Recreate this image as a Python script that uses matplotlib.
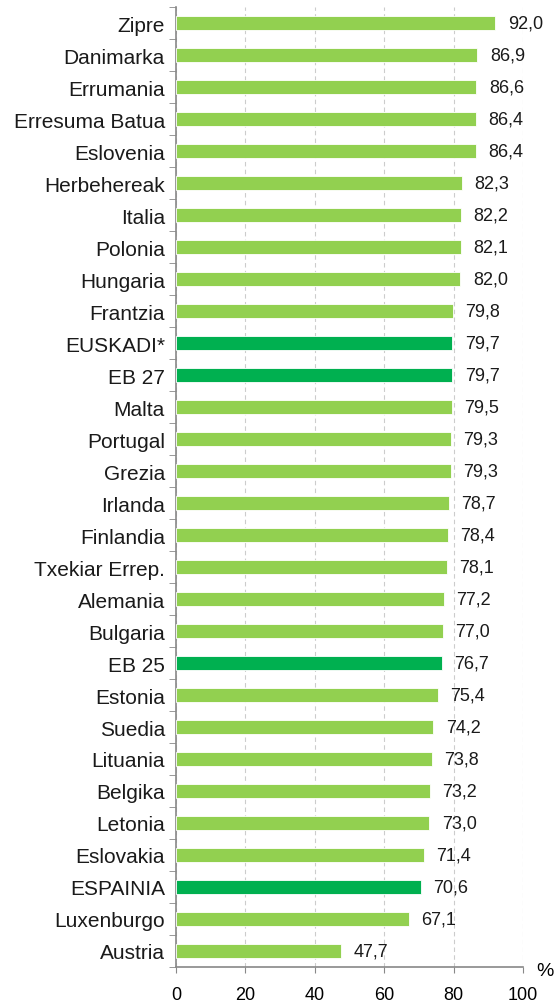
import matplotlib.pyplot as plt
from matplotlib.ticker import MultipleLocator

plt.rcParams['font.family'] = ['Liberation Sans', 'DejaVu Sans']

# data (top to bottom)
countries = ['Zipre', 'Danimarka', 'Errumania', 'Erresuma Batua', 'Eslovenia',
             'Herbehereak', 'Italia', 'Polonia', 'Hungaria', 'Frantzia',
             'EUSKADI*', 'EB 27', 'Malta', 'Portugal', 'Grezia', 'Irlanda',
             'Finlandia', 'Txekiar Errep.', 'Alemania', 'Bulgaria', 'EB 25',
             'Estonia', 'Suedia', 'Lituania', 'Belgika', 'Letonia',
             'Eslovakia', 'ESPAINIA', 'Luxenburgo', 'Austria']
values = [92.0, 86.9, 86.6, 86.4, 86.4, 82.3, 82.2, 82.1, 82.0, 79.8,
          79.7, 79.7, 79.5, 79.3, 79.3, 78.7, 78.4, 78.1, 77.2, 77.0,
          76.7, 75.4, 74.2, 73.8, 73.2, 73.0, 71.4, 70.6, 67.1, 47.7]
highlight = ['EUSKADI*', 'EB 27', 'EB 25', 'ESPAINIA']

light = '#92D050'
dark = '#00B050'
colors = [dark if c in highlight else light for c in countries]

fig = plt.figure(figsize=(5.56, 10.04), dpi=100)
ax = fig.add_axes([0.3165, 0.0359, 0.624, 0.956])

ypos = list(range(len(countries)))
ax.barh(ypos, values, height=0.45, color=colors, edgecolor='white', linewidth=0.6, zorder=3)

for y, v in zip(ypos, values):
    ax.annotate(f'{v:.1f}'.replace('.', ','), (v, y), xytext=(9, 0),
                textcoords='offset points', va='center', ha='left',
                fontsize=13, color='#1a1a1a')

ax.set_ylim(len(countries) - 0.5, -0.5)
ax.set_xlim(0, 100)
ax.set_yticks(ypos)
ax.set_yticklabels(countries, fontsize=15, color='#1a1a1a')
ax.yaxis.set_minor_locator(MultipleLocator(1, offset=0.5))
ax.tick_params(axis='y', which='major', length=0, pad=8)
ax.tick_params(axis='y', which='minor', length=5, color='#888888', direction='out')
ax.set_xticks([0, 20, 40, 60, 80, 100])
ax.tick_params(axis='x', length=4, color='#888888', labelsize=13, pad=10)

ax.grid(axis='x', linestyle=(0, (4, 3)), color='#cccccc', linewidth=0.8, zorder=0)
for s in ['top', 'right']:
    ax.spines[s].set_visible(False)
for s in ['left', 'bottom']:
    ax.spines[s].set_color('#888888')
    ax.spines[s].set_linewidth(1.2)

ax.text(1.038, -0.004, '%', transform=ax.transAxes, fontsize=14, ha='left', va='center')

fig.savefig('out.png', dpi=100)
